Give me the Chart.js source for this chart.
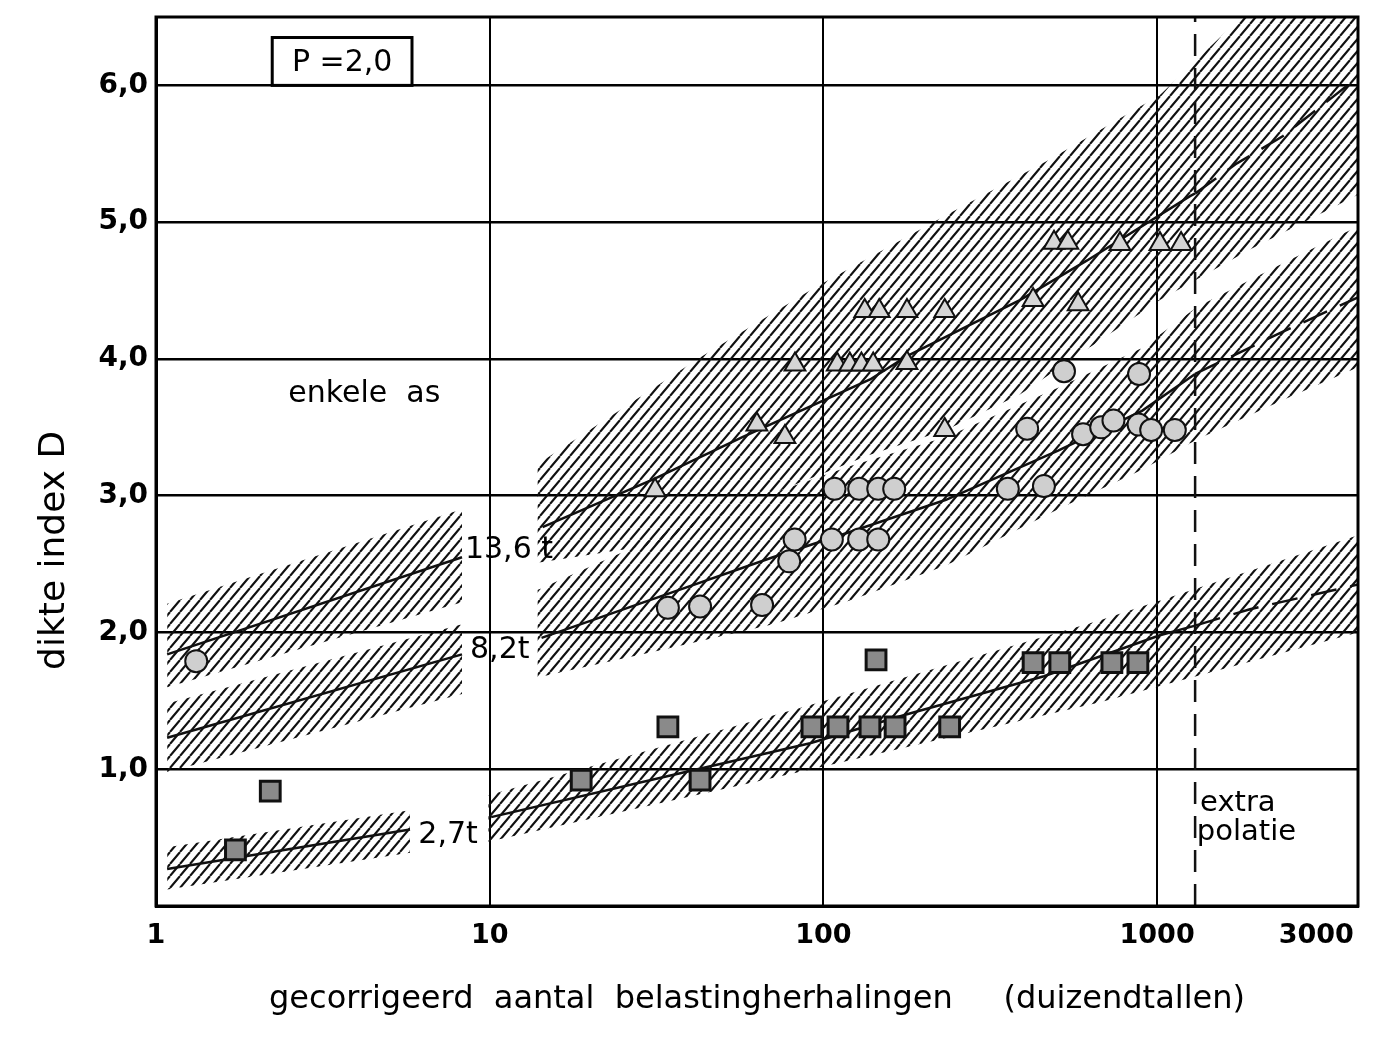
<!DOCTYPE html>
<html>
<head>
<meta charset="utf-8">
<script src="https://cdn.jsdelivr.net/npm/chart.js@4.4.1/dist/chart.umd.min.js"></script>
<style>
  html, body { margin: 0; padding: 0; background: #fff; }
</style>
</head>
<body>
<canvas id="chart" width="1375" height="1039"></canvas>
<script>
const xTickValues = [1, 10, 100, 1000, 3000];
const xTickLabels = ['1', '10', '100', '1000', '3000'];
const yTickValues = [1, 2, 3, 4, 5, 6];
const yTickLabels = ['1,0', '2,0', '3,0', '4,0', '5,0', '6,0'];
const extrapolationStart = 1300;

// hatched bands (upper edge, lower edge) as [N, D]
const band136LeftUpper = [[1.08, 2.21], [8.26, 2.90]];
const band136LeftLower = [[1.08, 1.60], [8.26, 2.22]];
const band82LeftUpper = [[1.08, 1.48], [8.26, 2.06]];
const band82LeftLower = [[1.08, 0.98], [8.26, 1.55]];
const band27LeftUpper = [[1.08, 0.43], [5.77, 0.70]];
const band27LeftLower = [[1.08, 0.12], [5.77, 0.39]];
const band136RightUpper = [[13.9, 3.23], [42.7, 4.01], [92.4, 4.51], [233, 5.05], [478, 5.46], [1020, 5.93], [1736, 6.47], [4000, 7.32]];
const band136RightLower = [[13.9, 2.51], [30.9, 2.64], [57.4, 2.93], [138, 3.30], [233, 3.48], [388, 3.74], [1020, 4.43], [1898, 4.80], [4000, 5.20]];
const band82RightUpper = [[13.9, 2.31], [34, 2.73], [70.6, 3.02], [122, 3.22], [233, 3.43], [505, 3.79], [901, 4.08], [1317, 4.38], [2384, 4.70], [4000, 4.97]];
const band82RightLower = [[13.9, 1.67], [34, 1.88], [70.6, 2.06], [122, 2.24], [233, 2.49], [505, 2.90], [901, 3.19], [1317, 3.41], [2384, 3.70], [4000, 3.94]];
const band27RightUpper = [[9.9, 0.81], [88.7, 1.46], [675, 2.09], [4000, 2.71]];
const band27RightLower = [[9.9, 0.47], [88.7, 0.99], [675, 1.49], [4000, 2.00]];

// fitted lines per axle load
const line136Left = [[1.08, 1.84], [8.26, 2.55]];
const line82Left = [[1.08, 1.23], [8.26, 1.84]];
const line27Left = [[1.08, 0.27], [5.77, 0.56]];
const line136Right = [[14.4, 2.77], [30.9, 3.12], [57.4, 3.43], [138, 3.85], [178, 4.02], [388, 4.43], [617, 4.72], [1255, 5.19], [1300, 5.21], [1735, 5.43], [2385, 5.63], [4000, 6.06]];
const line82Right = [[14.3, 1.96], [34, 2.28], [70.6, 2.55], [122, 2.74], [233, 2.97], [505, 3.33], [901, 3.62], [1300, 3.89], [2384, 4.20], [4000, 4.45]];
const line27Right = [[10.1, 0.65], [37.2, 0.97], [91.2, 1.19], [177, 1.40], [458, 1.68], [1020, 1.98], [1300, 2.05], [1898, 2.17], [4000, 2.35]];

// observations
const triangles136 = [[31.3, 3.04], [63.2, 3.52], [76.7, 3.43], [82.2, 3.96], [110, 3.96], [120, 3.96], [130, 3.96], [141, 3.96], [178, 3.97],
  [133, 4.35], [147, 4.35], [178, 4.35], [231, 4.35], [231, 3.48], [425, 4.43], [580, 4.40], [491, 4.85], [540, 4.85], [774, 4.84], [1020, 4.84], [1180, 4.84]];
const circles82 = [[1.32, 1.79], [34.2, 2.18], [42.7, 2.19], [65.5, 2.20], [79, 2.52], [82, 2.68], [106, 2.68], [128, 2.68], [146, 2.68],
  [108, 3.05], [128, 3.05], [146, 3.05], [163, 3.05], [357, 3.05], [458, 3.07], [408, 3.49], [526, 3.91], [883, 3.89],
  [600, 3.45], [680, 3.50], [740, 3.55], [880, 3.52], [960, 3.48], [1130, 3.48]];
const squares27 = [[1.73, 0.41], [2.20, 0.84], [18.8, 0.92], [34.2, 1.31], [42.7, 0.92], [92.4, 1.31], [110.6, 1.31], [137.9, 1.31], [164, 1.31],
  [143.8, 1.80], [239, 1.31], [425, 1.78], [511, 1.78], [732, 1.78], [876, 1.78]];

const FONT = 'DejaVu Sans';
const toPts = arr => arr.map(([x, y]) => ({ x, y }));

function makeHatch() {
  const c = document.createElement('canvas');
  c.width = 10; c.height = 12;
  const g = c.getContext('2d');
  g.strokeStyle = '#111';
  g.lineWidth = 2.1;
  g.beginPath();
  g.moveTo(0, 12); g.lineTo(10, 0);
  g.moveTo(-10, 12); g.lineTo(0, 0);
  g.moveTo(10, 12); g.lineTo(20, 0);
  g.stroke();
  return g.createPattern(c, 'repeat');
}
const hatch = makeHatch();

function band(upper, lower) {
  return [
    { type: 'line', data: toPts(upper), fill: '+1', backgroundColor: hatch, borderColor: 'rgba(0,0,0,0)', borderWidth: 0, pointRadius: 0, order: 5 },
    { type: 'line', data: toPts(lower), fill: false, borderColor: 'rgba(0,0,0,0)', borderWidth: 0, pointRadius: 0, order: 5 }
  ];
}

function fitLine(pts) {
  return {
    type: 'line', data: toPts(pts), borderColor: '#111', borderWidth: 2.5, pointRadius: 0, fill: false, order: 3,
    segment: { borderDash: c => c.p0.parsed.x >= extrapolationStart ? [26, 14] : undefined }
  };
}

function marks(pts, style, radius, fillColor, lineWidth) {
  return { type: 'scatter', data: toPts(pts), pointStyle: style, pointRadius: radius, backgroundColor: fillColor,
    borderColor: '#111', borderWidth: lineWidth, order: 1 };
}

const texts = [
  ['13,6 t', 8.43, 2.60, 30],
  ['8,2t', 8.73, 1.87, 30],
  ['2,7t', 6.11, 0.52, 30],
  ['enkele  as', 2.49, 3.74, 30],
  ['extra', 1345, 0.75, 29],
  ['polatie', 1315, 0.54, 29]
];

const decorations = {
  id: 'decorations',
  afterDraw(chart) {
    const { ctx, chartArea: a, scales: { x, y } } = chart;
    ctx.save();
    ctx.strokeStyle = '#000';
    ctx.lineWidth = 3;
    ctx.strokeRect(a.left, a.top, a.right - a.left, a.bottom - a.top);

    // P = 2,0 box
    const bx0 = x.getPixelForValue(2.23), bx1 = x.getPixelForValue(5.85);
    const by0 = y.getPixelForValue(6.35), by1 = y.getPixelForValue(6.0);
    ctx.fillStyle = '#fff';
    ctx.fillRect(bx0, by0, bx1 - bx0, by1 - by0);
    ctx.strokeRect(bx0, by0, bx1 - bx0, by1 - by0);
    ctx.fillStyle = '#000';
    ctx.font = '30px "' + FONT + '"';
    ctx.textAlign = 'center';
    ctx.textBaseline = 'middle';
    ctx.fillText('P =2,0', (bx0 + bx1) / 2, (by0 + by1) / 2 + 2);

    ctx.textAlign = 'left';
    texts.forEach(([t, vx, vy, size]) => {
      ctx.font = size + 'px "' + FONT + '"';
      ctx.fillText(t, x.getPixelForValue(vx), y.getPixelForValue(vy));
    });

    // y axis title
    ctx.save();
    ctx.translate(55, y.getPixelForValue(2.6));
    ctx.rotate(-Math.PI / 2);
    ctx.textAlign = 'center';
    ctx.font = '36px "' + FONT + '"';
    ctx.fillText('dikte index D', 0, 0);
    ctx.restore();
    ctx.restore();
  }
};

new Chart(document.getElementById('chart'), {
  type: 'line',
  data: {
    datasets: [
      marks(triangles136, 'triangle', 12, '#d6d6d6', 2),
      marks(circles82, 'circle', 11, '#cfcfcf', 2),
      marks(squares27, 'rect', 14, '#8a8a8a', 3),
      fitLine(line136Left), fitLine(line82Left), fitLine(line27Left),
      fitLine(line136Right), fitLine(line82Right), fitLine(line27Right),
      { type: 'line', data: [{ x: extrapolationStart, y: 0 }, { x: extrapolationStart, y: 6.5 }], borderColor: '#111', borderWidth: 2.5,
        borderDash: [22, 12], pointRadius: 0, fill: false, order: 4 },
      ...band(band136LeftUpper, band136LeftLower),
      ...band(band82LeftUpper, band82LeftLower),
      ...band(band27LeftUpper, band27LeftLower),
      ...band(band136RightUpper, band136RightLower),
      ...band(band82RightUpper, band82RightLower),
      ...band(band27RightUpper, band27RightLower)
    ]
  },
  options: {
    responsive: false,
    animation: false,
    layout: { padding: { left: 0, right: 17, top: 17, bottom: 0 } },
    plugins: { legend: { display: false }, tooltip: { enabled: false } },
    scales: {
      x: {
        type: 'logarithmic', min: 1, max: 4000,
        afterBuildTicks: s => { s.ticks = xTickValues.map(v => ({ value: v })); },
        afterFit: s => { s.height = 133; s.paddingLeft = 0; s.paddingRight = 0; },
        grid: { color: c => (c.tick && c.tick.value === 3000) ? 'rgba(0,0,0,0)' : '#000', lineWidth: 2, drawTicks: false },
        border: { color: '#000', width: 3 },
        ticks: { color: '#000', font: { family: FONT, size: 27, weight: 'bold' }, padding: 14, autoSkip: false, maxRotation: 0,
          callback: v => xTickLabels[xTickValues.indexOf(v)] },
        title: { display: true, text: 'gecorrigeerd  aantal  belastingherhalingen     (duizendtallen)', color: '#000',
          font: { family: FONT, size: 32 }, padding: { top: 0, bottom: 20 } }
      },
      y: {
        min: 0, max: 6.5,
        afterBuildTicks: s => { s.ticks = yTickValues.map(v => ({ value: v })); },
        afterFit: s => { s.width = 156; s.paddingTop = 0; s.paddingBottom = 0; },
        grid: { color: '#000', lineWidth: 2.5, drawTicks: false },
        border: { color: '#000', width: 3 },
        ticks: { color: '#000', font: { family: FONT, size: 28, weight: 'bold' }, padding: 8,
          callback: v => yTickLabels[yTickValues.indexOf(v)] }
      }
    }
  },
  plugins: [decorations]
});
</script>
</body>
</html>
